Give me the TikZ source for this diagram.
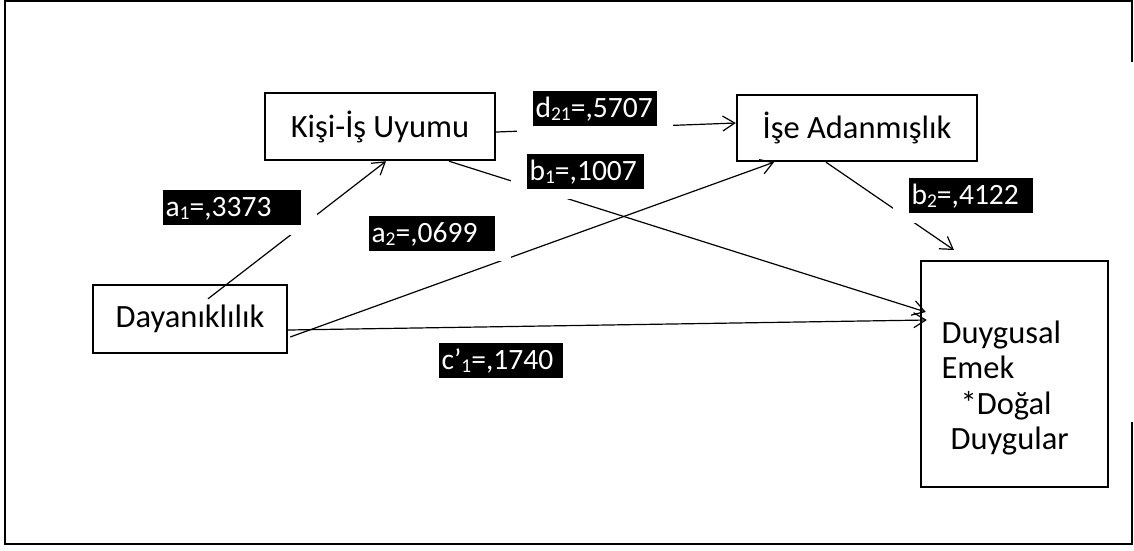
\documentclass[tikz,border=0pt]{standalone}
\usepackage{fontspec}
\setmainfont{Carlito}
\usetikzlibrary{arrows.meta, positioning}

\newcommand{\coef}[2]{{\setlength{\fboxsep}{0pt}\colorbox{black}{\rule[-8pt]{0pt}{35pt}\makebox[#2][l]{\hspace{3pt}\textcolor{white}{#1}}}}}
\newcommand{\lowidx}[1]{\raisebox{-3pt}{\fontsize{19.5}{19.5}\selectfont #1}}

\tikzset{
	var/.style={draw, line width=2.4pt, inner sep=0pt},
	coef/.style={anchor=north west, fill=white, inner xsep=16pt, inner ysep=10pt, font=\fontsize{29.5}{35}\selectfont}
}

\begin{document}
\begin{tikzpicture}[x=1pt, y=-1pt, line width=1.2pt, ->, >={Straight Barb[length=12pt, width=15pt]}, font=\fontsize{32.5}{35.5}\selectfont]
	\useasboundingbox (0,0) rectangle (1134,550);
	\draw[-, line width=2.7pt] (1132,62) -- (1132,1) -- (5,1) -- (5,544) -- (1132,544) -- (1132,422);

	\node[var, minimum width=230pt, minimum height=67pt] (kisi) at (380,126.5) {Kişi-İş Uyumu};
	\node[var, minimum width=240pt, minimum height=66pt] (ise) at (857,128) {İşe Adanmışlık};
	\node[var, minimum width=194pt, minimum height=68pt] (daya) at (190,319) {Dayanıklılık};
	\node[var, minimum width=187pt, minimum height=226pt] (duyg) at (1014.5,374) {};
	\node[anchor=north west, inner sep=0pt, align=left] (duyg-text) at (941,320) {Duygusal\\Emek\\\hspace*{19pt}*Doğal\\\hspace*{9pt}Duygular};

	\coordinate (b2-faux) at (954,250);

	\draw ([yshift=-5.5pt]kisi.east) -- ([yshift=5pt]ise.west);
	\draw ([xshift=18pt, yshift=-15pt]daya.north) -- ([xshift=6pt]kisi.south);
	\draw ([xshift=69pt]kisi.south) -- ([xshift=6pt, yshift=62pt]duyg.west);
	\draw ([xshift=2pt, yshift=-18pt]daya.east) -- ([xshift=-83pt]ise.south);
	\draw ([xshift=-31pt]ise.south) -- (b2-faux);
	\draw ([yshift=-11pt]daya.east) -- ([xshift=7pt, yshift=54pt]duyg.west);

	\node[coef] (d21) at (516,80) {\coef{d\lowidx{21}=,5707}{124pt}};
	\node[coef] (b1) at (510,143) {\coef{b\lowidx{1}=,1007}{117pt}};
	\node[coef] (a1) at (146,179) {\coef{a\lowidx{1}=,3373}{138pt}};
	\node[coef] (a2) at (352,205) {\coef{a\lowidx{2}=,0699}{126pt}};
	\node[coef] (b2) at (892,167) {\coef{b\lowidx{2}=,4122}{124pt}};
	\node[coef] (c1) at (422,332) {\coef{c’\lowidx{1}=,1740}{124pt}};
\end{tikzpicture}
\end{document}
